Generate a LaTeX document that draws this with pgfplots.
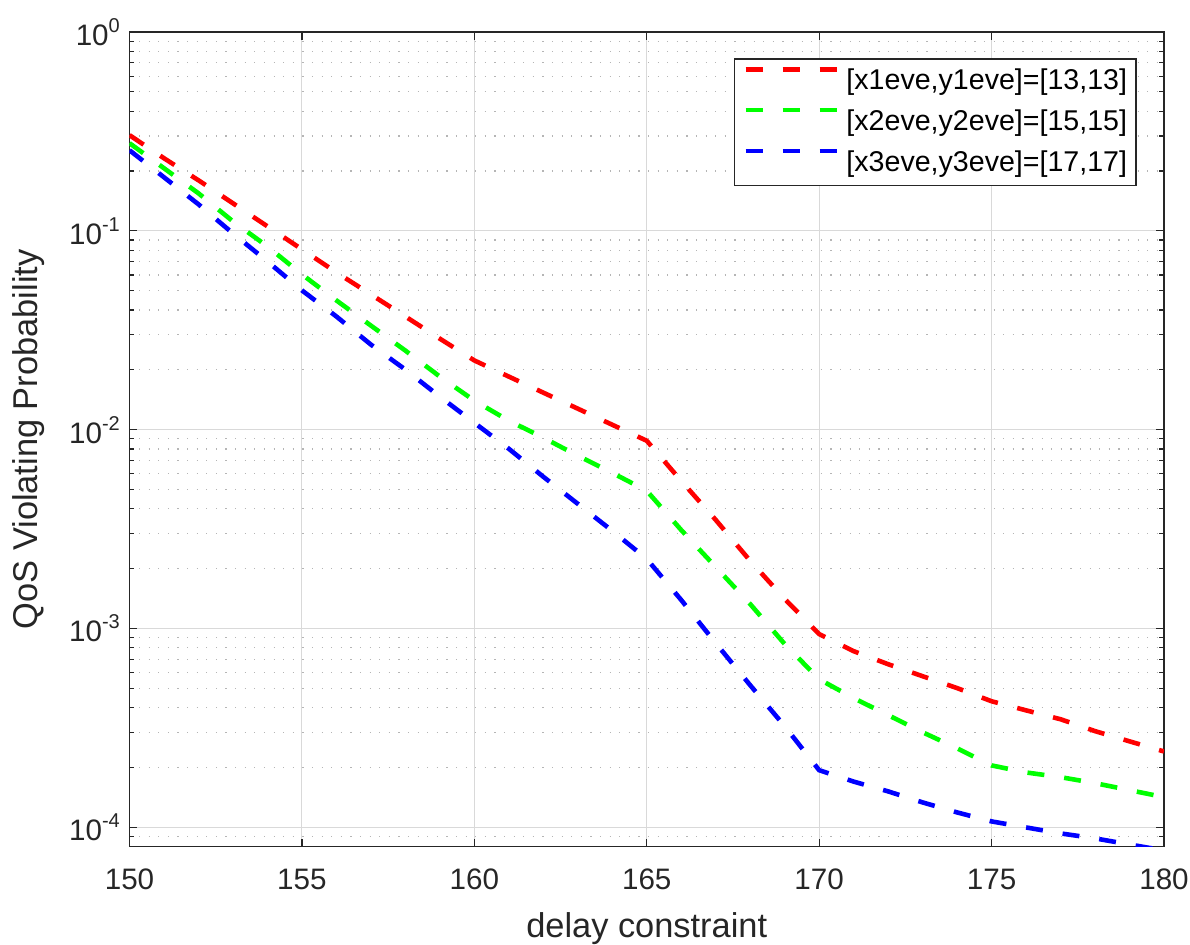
\documentclass[border=0pt]{standalone}
\usepackage{pgfplots}
\pgfplotsset{compat=1.18}
\usepackage{fontspec}
\setmainfont{Liberation Sans}
\definecolor{axc}{HTML}{262626}
\definecolor{gridc}{HTML}{D9D9D9}
\definecolor{minc}{HTML}{B5B5B5}
\newcommand{\tsup}[1]{10\raisebox{6.5pt}{\fontsize{10}{10}\selectfont #1}}
\begin{document}
\begin{tikzpicture}
\begin{axis}[
  at={(0,0)}, anchor=south west,
  width=517.25pt, height=407.35pt, scale only axis,
  ymode=log,
  xmin=150, xmax=180, ymin=8e-5, ymax=1,
  xtick={150,155,...,180},
  ytick={1e-4,1e-3,1e-2,1e-1,1},
  yticklabels={\tsup{-4},\tsup{-3},\tsup{-2},\tsup{-1},\tsup{0}},
  minor ytick={8e-5,9e-5,
    2e-4,3e-4,4e-4,5e-4,6e-4,7e-4,8e-4,9e-4,
    2e-3,3e-3,4e-3,5e-3,6e-3,7e-3,8e-3,9e-3,
    2e-2,3e-2,4e-2,5e-2,6e-2,7e-2,8e-2,9e-2,
    0.2,0.3,0.4,0.5,0.6,0.7,0.8,0.9},
  xmajorgrids, ymajorgrids, yminorgrids,
  major grid style={color=gridc, line width=0.5pt},
  minor grid style={color=minc, line width=0.6pt, dash pattern=on 0.6pt off 4.2pt},
  tick align=inside, tick pos=both,
  major tick length=4pt, minor tick length=2.5pt,
  every tick/.style={color=axc, line width=0.6pt},
  axis line style={color=axc, line width=0.7pt},
  /pgf/number format/assume math mode=true,
  /pgf/number format/1000 sep={},
  xticklabel style={font=\fontsize{14.8}{16}\selectfont, text=axc, yshift=-7.6pt},
  yticklabel style={font=\fontsize{14.8}{16}\selectfont, text=axc, xshift=-1.3pt},
  xlabel={delay constraint},
  ylabel={QoS Violating Probability},
  xlabel style={font=\fontsize{17.2}{18}\selectfont, text=axc,
    at={(axis description cs:0.5,-0.1117)}, anchor=base},
  ylabel style={font=\fontsize{17.2}{18}\selectfont, text=axc,
    at={(axis description cs:-0.0888,0.5)}, anchor=base},
  legend style={at={(axis description cs:0.9736,0.9677)}, anchor=north east,
    draw=axc, line width=0.6pt, fill=white,
    font=\fontsize{14.3}{14.3}\selectfont,
    inner xsep=4.5pt, inner ysep=4pt, row sep=6pt,
    nodes={inner sep=0pt, text height=10.5pt, text depth=3pt, text=black},
    cells={anchor=west}},
  /tikz/every odd column/.append style={column sep=3.5pt},
  legend image code/.code={\draw[#1] (0pt,6.5pt) -- (45.8pt,6.5pt);},
  every axis plot/.append style={line width=2.3pt, dash pattern=on 8.5pt off 10pt, line cap=butt},
]
\addplot[color={rgb,1:red,1;green,0;blue,0}] coordinates {
(150,0.3029)(151,0.2318)(152,0.1796)(153,0.1376)(154,0.1054)(155,0.0807)
(156,0.0618)(157,0.0479)(158,0.0371)(159,0.0287)(160,0.0223)(161,0.0185)
(162,0.01536)(163,0.01276)(164,0.01059)(165,0.0088)(166,0.00553)(167,0.00352)
(168,0.00219)(169,0.00141)(170,0.000938)(171,0.00077)(172,0.000662)(173,0.000576)
(174,0.000502)(175,0.000431)(176,0.000388)(177,0.00035)(178,0.000305)(179,0.000271)
(180,0.000241)};
\addlegendentry{[x1eve,y1eve]=[13,13]}
\addplot[color={rgb,1:red,0;green,1;blue,0}] coordinates {
(150,0.276)(151,0.2065)(152,0.1545)(153,0.1116)(154,0.0835)(155,0.0604)
(156,0.0447)(157,0.0334)(158,0.0250)(159,0.0185)(160,0.0140)(161,0.0111)
(162,0.00912)(163,0.0074)(164,0.00607)(165,0.00493)(166,0.00313)(167,0.00204)
(168,0.001328)(169,0.000836)(170,0.000556)(171,0.000447)(172,0.000367)(173,0.000301)
(174,0.00025)(175,0.000205)(176,0.000189)(177,0.000179)(178,0.000167)(179,0.000154)
(180,0.000142)};
\addlegendentry{[x2eve,y2eve]=[15,15]}
\addplot[color={rgb,1:red,0;green,0;blue,1}] coordinates {
(150,0.2543)(151,0.186)(152,0.136)(153,0.0971)(154,0.0702)(155,0.0502)
(156,0.0371)(157,0.0268)(158,0.02006)(159,0.01466)(160,0.01084)(161,0.00802)
(162,0.0058)(163,0.00424)(164,0.0031)(165,0.00224)(166,0.001392)(167,0.000845)
(168,0.000519)(169,0.000323)(170,0.000194)(171,0.00017)(172,0.0001518)(173,0.0001336)
(174,0.000119)(175,0.0001072)(176,0.0001)(177,0.0000933)(178,0.0000881)(179,0.0000821)
(180,0.0000766)};
\addlegendentry{[x3eve,y3eve]=[17,17]}
\end{axis}
\pgfresetboundingbox
\path[use as bounding box] (-64.75pt,-49.15pt) rectangle (530.25pt,423.35pt);
\end{tikzpicture}
\end{document}
